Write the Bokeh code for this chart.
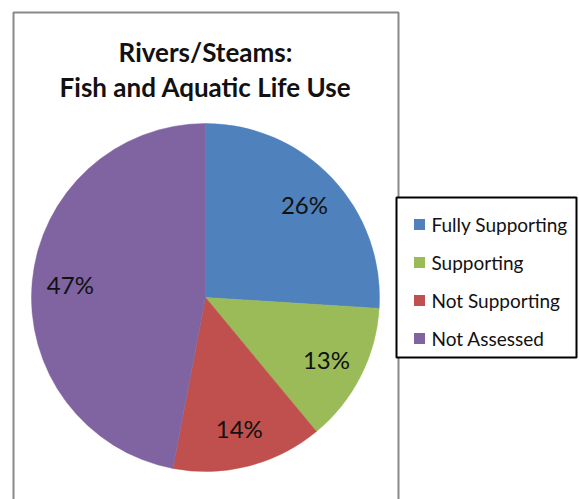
import math
from bokeh.plotting import figure
from bokeh.models import Range1d
from bokeh.core.properties import value
from bokeh.embed import file_html
from bokeh.resources import INLINE

# ---- data ----
categories = ["Fully Supporting", "Supporting", "Not Supporting", "Not Assessed"]
percents = [26, 13, 14, 47]
colors = ["#4F81BD", "#9BBB59", "#C0504D", "#8064A2"]
title_lines = ["Rivers/Steams:", "Fish and Aquatic Life Use"]

W, H = 579, 499
FONT = "Lato"

def Y(py):
    return H - py

p = figure(width=W, height=H, x_range=Range1d(0, W), y_range=Range1d(0, H),
           output_backend="svg", toolbar_location=None, min_border=0,
           x_axis_type=None, y_axis_type=None)
p.grid.visible = False
p.outline_line_color = None
p.background_fill_color = "white"
p.border_fill_color = "white"

# chart area frame
p.quad(left=13, right=398, top=Y(12), bottom=Y(520), fill_color="white",
       line_color="#898989", line_width=2)

# pie
cx, cy, R = 205, 297, 174
total = sum(percents)
starts, ends, mids = [], [], []
acc = 0.0
for v in percents:
    a0 = math.pi / 2 - 2 * math.pi * acc / total
    acc += v
    a1 = math.pi / 2 - 2 * math.pi * acc / total
    starts.append(a0)
    ends.append(a1)
    mids.append((a0 + a1) / 2)

p.wedge(x=[cx] * 4, y=[Y(cy)] * 4, radius=R, start_angle=starts, end_angle=ends,
        direction="clock", fill_color=colors, line_color=colors, line_width=0.5)

lr = 0.78 * R
lx = [cx + lr * math.cos(m) for m in mids]
ly = [Y(cy) + lr * math.sin(m) for m in mids]
p.text(x=lx, y=ly, text=[f"{v}%" for v in percents], text_align="center",
       text_baseline="middle", text_font=value(FONT), text_font_size="24px",
       text_color="#111111")

# title
p.text(x=[205, 205], y=[Y(51), Y(86)], text=title_lines, text_align="center",
       text_baseline="middle", text_font=value(FONT), text_font_style="bold",
       text_font_size="26px", text_color="#111111")

# legend
p.quad(left=396, right=576, top=Y(197), bottom=Y(357), fill_color="white",
       line_color="black", line_width=2)
row_y = [Y(224 + i * 38) for i in range(len(categories))]
p.rect(x=[419] * 4, y=row_y, width=11, height=11, fill_color=colors, line_color=None)
p.text(x=[431] * 4, y=row_y, text=categories, text_align="left",
       text_baseline="middle", text_font=value(FONT), text_font_size="19px",
       text_color="#111111")

open("out.html", "w").write(file_html(p, INLINE))
